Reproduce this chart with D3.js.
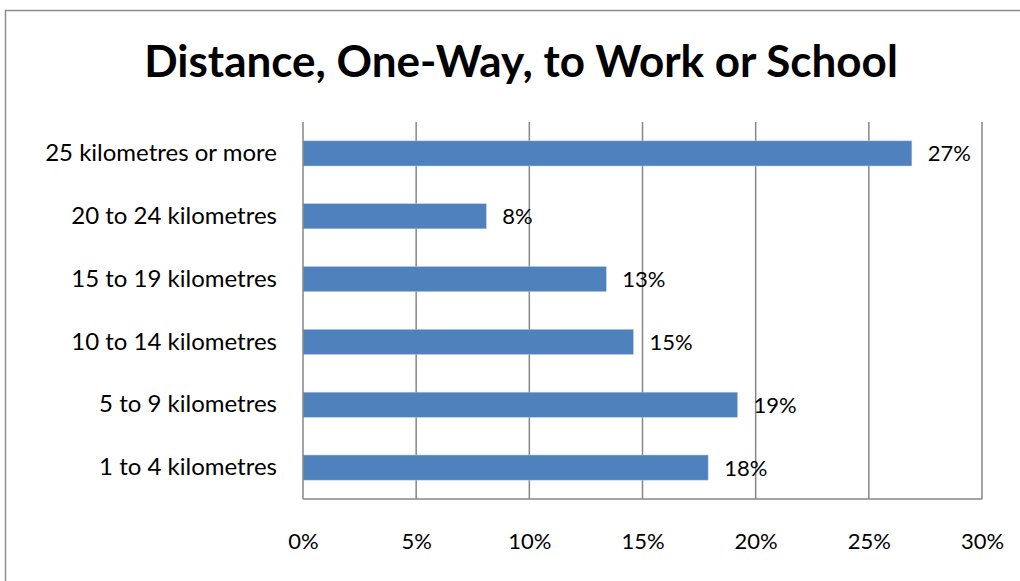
<!DOCTYPE html>
<html>
<head>
<meta charset="utf-8">
<script src="https://cdn.jsdelivr.net/npm/d3@7"></script>
<style>
  html, body { margin: 0; padding: 0; background: #fff; }
  svg { display: block; }
</style>
</head>
<body>
<svg id="chart" width="1020" height="581"></svg>
<script>
// Commute distance categories, top to bottom
const categories = [
  "25 kilometres or more",
  "20 to 24 kilometres",
  "15 to 19 kilometres",
  "10 to 14 kilometres",
  "5 to 9 kilometres",
  "1 to 4 kilometres"
];
// Share of commuters in each category
const shares = [0.269, 0.081, 0.134, 0.146, 0.192, 0.179];
const xTicks = [0, 0.05, 0.10, 0.15, 0.20, 0.25, 0.30];
const titleText = "Distance, One-Way, to Work or School";

const fontFamily = "Lato, 'Open Sans', sans-serif";
const svg = d3.select("#chart");

// Chart frame
svg.append("rect")
  .attr("x", 5.5).attr("y", 10.5)
  .attr("width", 1030).attr("height", 600)
  .attr("fill", "#fff")
  .attr("stroke", "#8c8c8c").attr("stroke-width", 1.5);

const plot = { left: 303, right: 982, top: 122, bottom: 499 };

const x = d3.scaleLinear().domain([0, 0.30]).range([plot.left, plot.right]);
const y = d3.scaleBand().domain(categories).range([plot.top, plot.bottom]).paddingInner(0.6).paddingOuter(0.3);

// Title
svg.append("text")
  .attr("x", 521).attr("y", 77)
  .attr("text-anchor", "middle")
  .attr("font-family", fontFamily)
  .attr("font-weight", "bold")
  .attr("font-size", 44)
  .attr("fill", "#000")
  .text(titleText);

// Vertical gridlines
svg.append("g")
  .selectAll("line")
  .data(xTicks.slice(1))
  .join("line")
  .attr("x1", d => x(d)).attr("x2", d => x(d))
  .attr("y1", plot.top).attr("y2", plot.bottom)
  .attr("stroke", "#868686").attr("stroke-width", 1.5);

// Bars
svg.append("g")
  .selectAll("rect")
  .data(categories)
  .join("rect")
  .attr("x", x(0))
  .attr("y", d => y(d))
  .attr("width", (d, i) => x(shares[i]) - x(0))
  .attr("height", y.bandwidth())
  .attr("fill", "#4f81bd")
  .attr("stroke", "#b9cde5").attr("stroke-width", 0.5);

// Value labels
const fmt = d3.format(".0%");
svg.append("g")
  .selectAll("text")
  .data(categories)
  .join("text")
  .attr("x", (d, i) => x(shares[i]) + 16)
  .attr("y", d => y(d) + y.bandwidth() / 2)
  .attr("dy", "0.36em")
  .attr("font-family", fontFamily)
  .attr("font-size", 22)
  .attr("fill", "#000")
  .text((d, i) => fmt(shares[i]));

// Category axis
const yAxis = svg.append("g")
  .attr("transform", `translate(${plot.left},0)`)
  .call(d3.axisLeft(y).tickSize(0).tickPadding(26));
yAxis.select(".domain").attr("stroke", "#868686").attr("stroke-width", 1.5)
  .attr("d", `M0,${plot.top}V${plot.bottom}`);
yAxis.selectAll("text")
  .attr("font-family", fontFamily).attr("font-size", 24).attr("fill", "#000");

// Value axis
const xAxis = svg.append("g")
  .attr("transform", `translate(0,${plot.bottom})`)
  .call(d3.axisBottom(x).tickValues(xTicks).tickFormat(fmt).tickSize(0).tickPadding(34));
xAxis.select(".domain").attr("stroke", "#868686").attr("stroke-width", 1.5)
  .attr("d", `M${plot.left},0H${plot.right}`);
xAxis.selectAll("text")
  .attr("font-family", fontFamily).attr("font-size", 22).attr("fill", "#000");
</script>
</body>
</html>
